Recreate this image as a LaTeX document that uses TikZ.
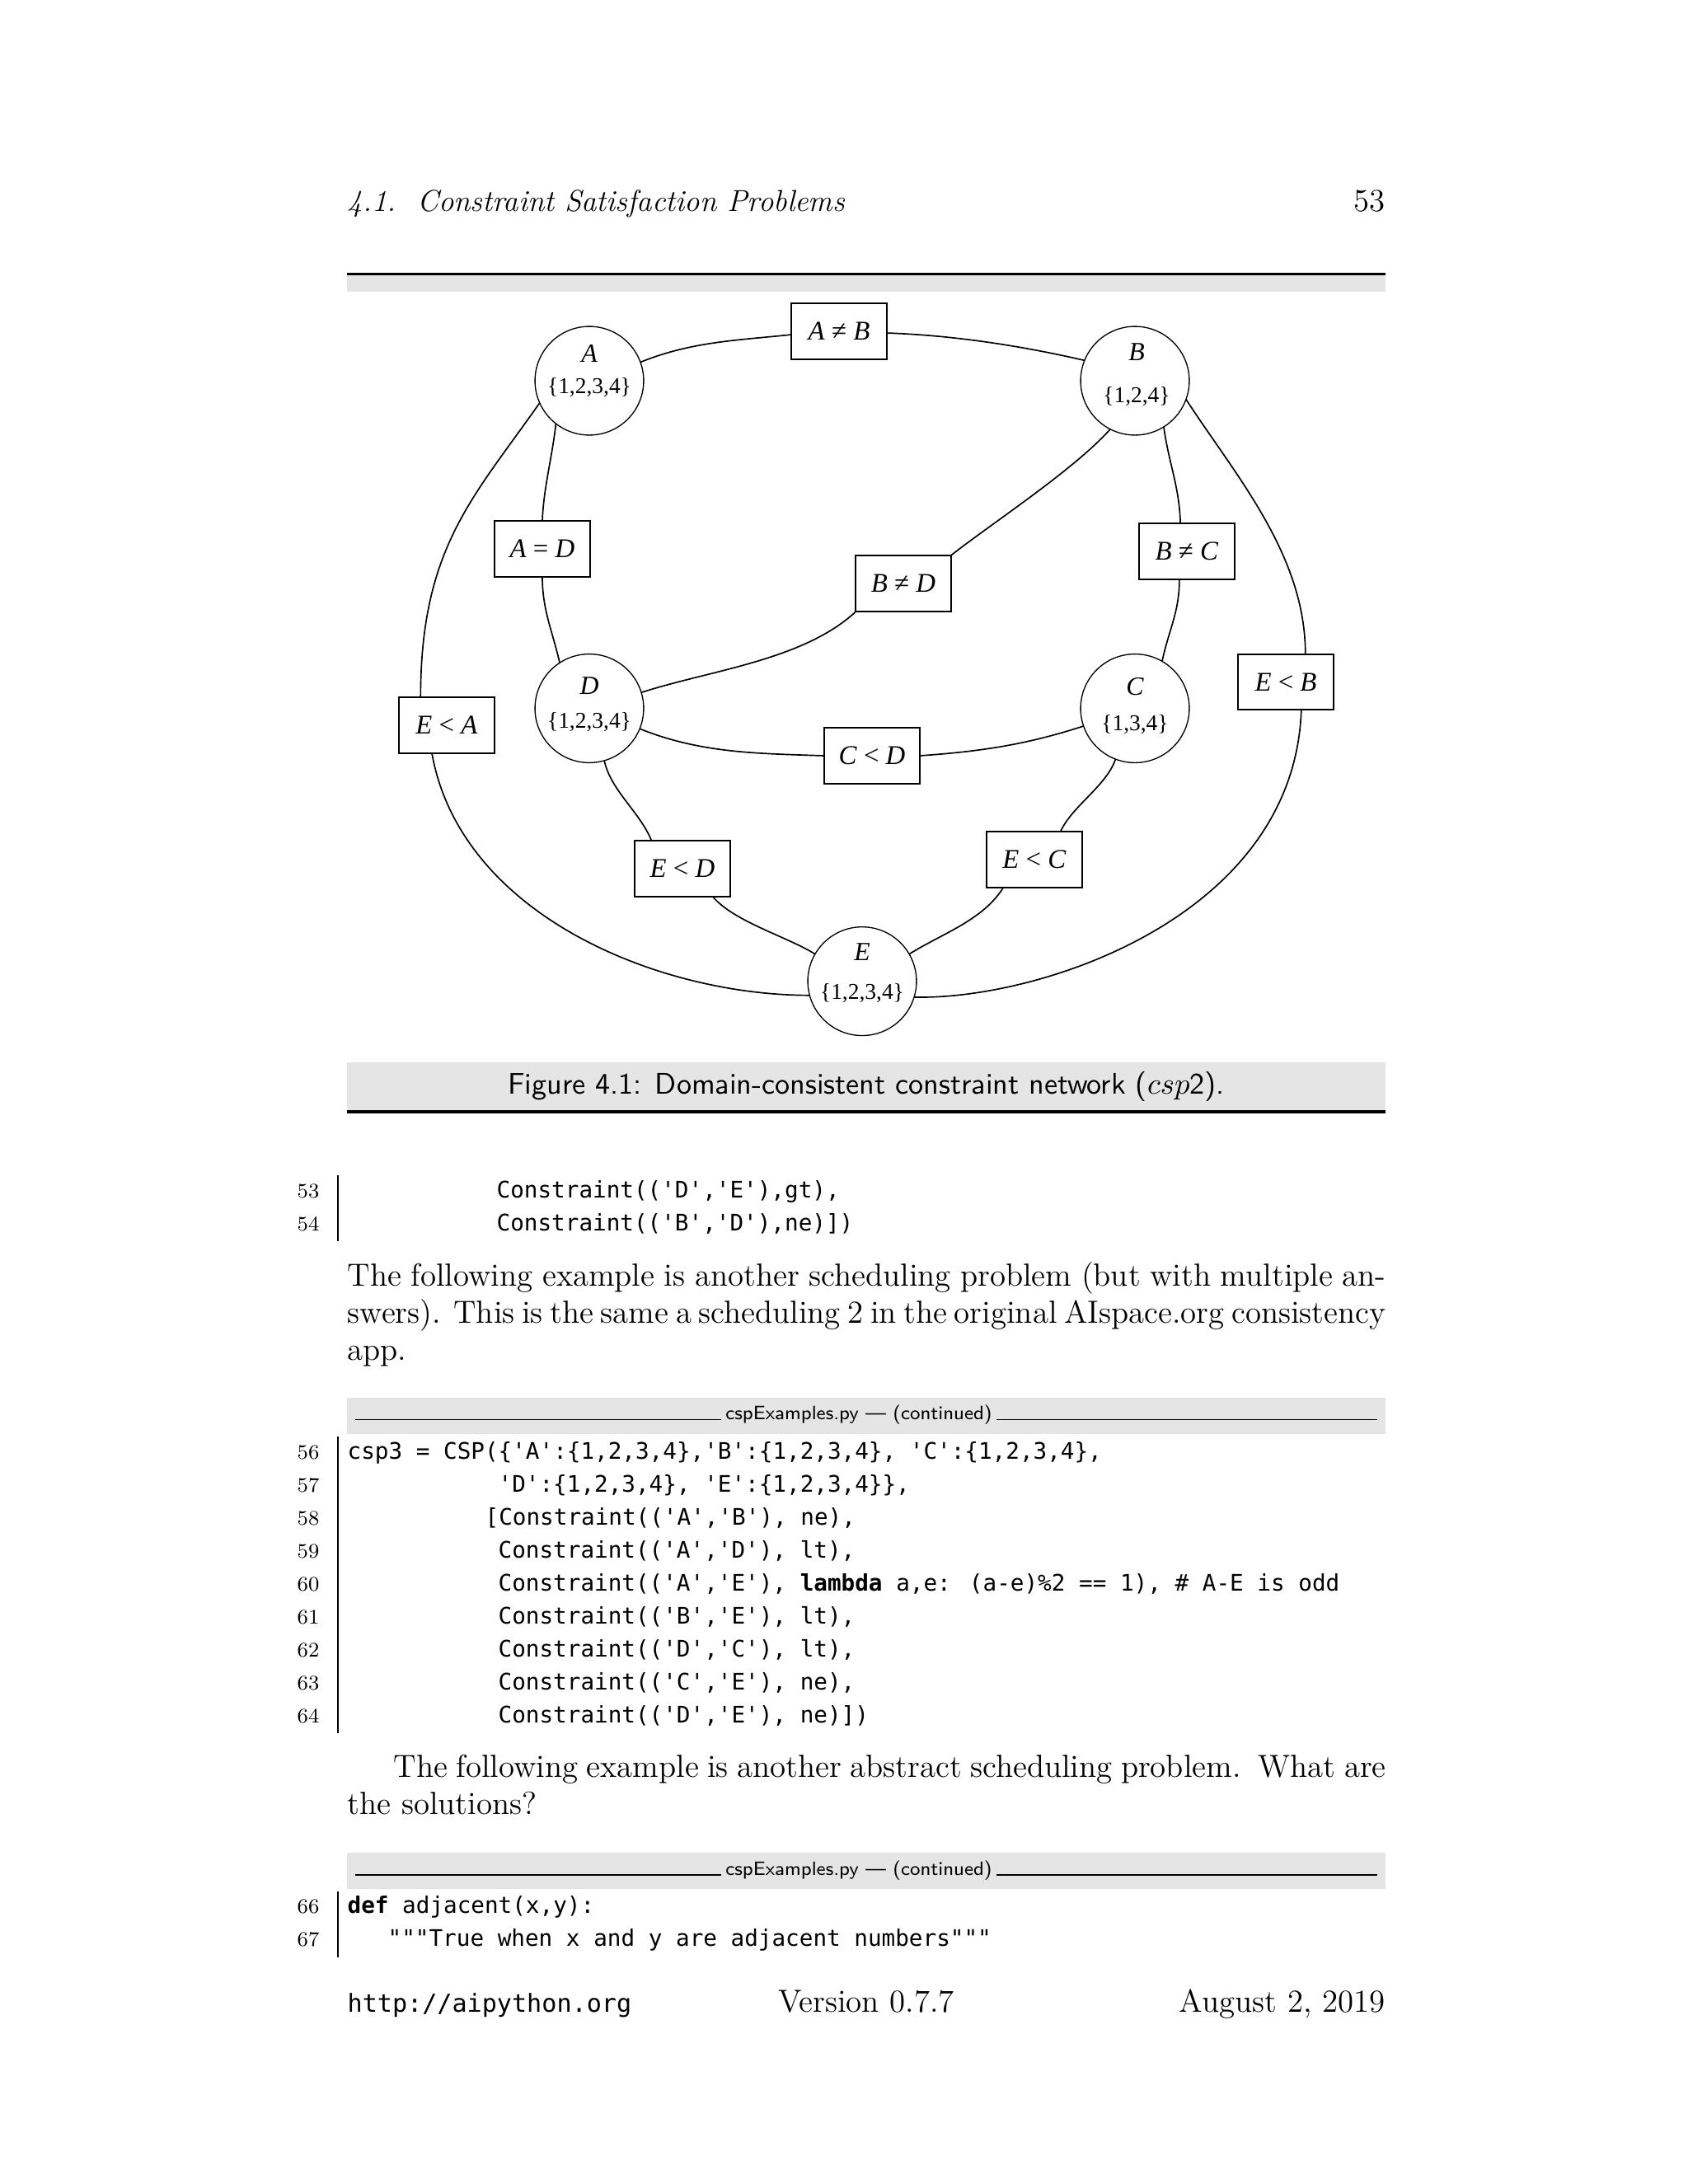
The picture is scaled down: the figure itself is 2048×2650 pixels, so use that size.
\documentclass[tikz,border=0pt]{standalone}
\usepackage{fontspec}
\usepackage{graphicx}
\newfontfamily\gvfont{Liberation Serif}
\newfontfamily\codefont{DejaVu Sans Mono}
\definecolor{bandgray}{gray}{0.9}
\tikzset{
  var/.style={circle, draw, line width=0.4pt, minimum size=39.4pt, inner sep=0pt, outer sep=0pt},
  con/.style={rectangle, draw, line width=0.6pt, minimum width=34.4pt, minimum height=20.3pt, inner sep=0pt, outer sep=0pt, font=\gvfont\fontsize{9.8}{12}\selectfont},
  vname/.style={inner sep=0pt, font=\gvfont\itshape\fontsize{9.5}{12}\selectfont},
  vdom/.style={inner sep=0pt, font=\gvfont\fontsize{8.2}{10}\selectfont},
  arc/.style={line width=0.5pt},
  code/.style={anchor=base west, inner sep=0pt, font=\codefont\fontsize{8.26}{10}\selectfont},
  lnum/.style={anchor=base east, inner sep=0pt, font=\fontsize{7.5}{9}\selectfont},
  body/.style={anchor=base west, inner sep=0pt, font=\fontsize{11.6}{13.6}\selectfont},
  boxlabel/.style={anchor=base, inner xsep=1.5pt, inner ysep=0pt, font=\sffamily\fontsize{7}{8}\selectfont},
  bar/.style={line width=0.5pt},
  thinrule/.style={line width=0.4pt}
}
\newcommand{\ital}[1]{\textit{#1}}
\begin{document}
\begin{tikzpicture}[x=0.29883pt,y=-0.29883pt]
\useasboundingbox (0,0) rectangle (2048,2650);
\fill[white] (0,0) rectangle (2048,2650);

% ---------- running head ----------
\node[anchor=base west, inner sep=0pt, font=\itshape\fontsize{11}{13.6}\selectfont] (head) at (421,256.7) {4.1.\ \ Constraint Satisfaction Problems};
\node[anchor=base east, inner sep=0pt, font=\fontsize{11.6}{13.6}\selectfont] (pageno) at (1681,256.7) {53};

% ---------- figure frame ----------
\fill[black] (421,331) rectangle (1681,334.3);
\fill[bandgray] (421,334.3) rectangle (1681,354);
\fill[bandgray] (421,1289) rectangle (1681,1347);
\fill[black] (421,1347) rectangle (1681,1351);
\node[anchor=base, inner sep=0pt, font=\sffamily\fontsize{10.8}{12}\selectfont] (cap) at (1051,1327) {Figure 4.1: Domain-consistent constraint network ($csp$2).};

% ---------- graph: variables ----------
\node[var] (A) at (715,462) {};
\node[var] (B) at (1377,462) {};
\node[var] (C) at (1377,859.5) {};
\node[var] (D) at (715,859.5) {};
\node[var] (E) at (1046,1190.6) {};
\node[vname] (An) at (715,429) {A};
\node[vdom] (Ad) at (715,470) {\{1,2,3,4\}};
\node[vname] (Bn) at (1379,427) {B};
\node[vdom] (Bd) at (1379,481) {\{1,2,4\}};
\node[vname] (Cn) at (1377,833) {C};
\node[vdom] (Cd) at (1377,879) {\{1,3,4\}};
\node[vname] (Dn) at (715,832) {D};
\node[vdom] (Dd) at (715,876) {\{1,2,3,4\}};
\node[vname] (En) at (1046,1155) {E};
\node[vdom] (Ed) at (1046,1205) {\{1,2,3,4\}};

% ---------- graph: constraints ----------
\node[con] (AB) at (1018,402) {\ital{A} ≠ \ital{B}};
\node[con] (AD) at (658,666) {\ital{A} = \ital{D}};
\node[con] (BD) at (1096,708) {\ital{B} ≠ \ital{D}};
\node[con] (BC) at (1440,669) {\ital{B} ≠ \ital{C}};
\node[con] (EB) at (1560,827.5) {\ital{E} < \ital{B}};
\node[con] (EA) at (542,879.6) {\ital{E} < \ital{A}};
\node[con] (CD) at (1058,917) {\ital{C} < \ital{D}};
\node[con] (ED) at (828,1053.6) {\ital{E} < \ital{D}};
\node[con] (EC) at (1255,1043) {\ital{E} < \ital{C}};

% ---------- graph: arcs ----------
\draw[arc] (A.20) .. controls +(22:20pt) and +(186:20pt) .. (AB.184);
\draw[arc] (AB.-2) .. controls +(-2:24pt) and +(167:24pt) .. (B.158);
\draw[arc] (A.232) .. controls +(-96:12pt) and +(88:12pt) .. (AD.north);
\draw[arc] (AD.south) .. controls +(-90:12pt) and +(103:12pt) .. (D.123);
\draw[arc] (A.204) .. controls +(-125:42pt) and +(90:54pt) .. (EA.133);
\draw[arc] (EA.-118) .. controls +(-80:59.5pt) and +(180:55pt) .. (E.195);
\draw[arc] (B.-20) .. controls +(-57:33pt) and +(90:36pt) .. (EB.55);
\draw[arc] (EB.-61) .. controls +(-92:75.6pt) and +(-1.5:44.5pt) .. (E.-17);
\draw[arc] (B.-58) .. controls +(-82:14pt) and +(92:14pt) .. (BC.103);
\draw[arc] (BC.-105) .. controls +(-90:12pt) and +(78:12pt) .. (C.60);
\draw[arc] (B.-117) .. controls +(-132:20pt) and +(38:20pt) .. (BD.north east);
\draw[arc] (BD.south west) .. controls +(-137:26pt) and +(18:26pt) .. (D.17);
\draw[arc] (D.-22) .. controls +(-22:24pt) and +(178:24pt) .. (CD.west);
\draw[arc] (CD.east) .. controls +(4:22pt) and +(-162:22pt) .. (C.199);
\draw[arc] (D.-74) .. controls +(-78:11pt) and +(112:11pt) .. (ED.138);
\draw[arc] (ED.-43) .. controls +(-50:12pt) and +(148:12pt) .. (E.150);
\draw[arc] (C.-111) .. controls +(-108:10pt) and +(66:10pt) .. (EC.47);
\draw[arc] (EC.-138) .. controls +(-122:14pt) and +(32:14pt) .. (E.30);

% ---------- code lines 53-54 ----------
\coordinate (bar1t) at (410,1426);
\coordinate (bar1b) at (410,1506);
\draw[bar] (bar1t) -- (bar1b);
\node[lnum] (n53) at (388,1453) {53};
\node[lnum] (n54) at (388,1493) {54};
\node[code] (c53) at (602,1453) {Constraint(('D','E'),gt),};
\node[code] (c54) at (602,1493) {Constraint(('B','D'),ne)])};

% ---------- paragraph 1 ----------
\node[body] (p1a) at (421,1560) {\makebox[376.5pt][s]{The following example is another scheduling problem (but with multiple an-}};
\node[body] (p1b) at (421,1605) {\makebox[376.5pt][s]{swers). This is the same a scheduling 2 in the original AIspace.org consistency}};
\node[body] (p1c) at (421,1650) {app.};

% ---------- code box 1 ----------
\fill[bandgray] (421,1696) rectangle (1681,1740);
\node[boxlabel] (lab1) at (1042,1722.7) {cspExamples.py --- (continued)};
\coordinate (l1a) at (431,1722.7);
\coordinate (l1b) at (1671,1722.7);
\draw[thinrule] (l1a) -- (lab1.base west);
\draw[thinrule] (lab1.base east) -- (l1b);
\coordinate (bar2t) at (410,1743);
\coordinate (bar2b) at (410,2103);
\draw[bar] (bar2t) -- (bar2b);
\node[lnum] (n56) at (388,1770) {56};
\node[lnum] (n57) at (388,1810) {57};
\node[lnum] (n58) at (388,1850) {58};
\node[lnum] (n59) at (388,1890) {59};
\node[lnum] (n60) at (388,1930) {60};
\node[lnum] (n61) at (388,1970) {61};
\node[lnum] (n62) at (388,2010) {62};
\node[lnum] (n63) at (388,2050) {63};
\node[lnum] (n64) at (388,2090) {64};
\node[code] (c56) at (421,1770) {csp3 = CSP(\{'A':\{1,2,3,4\},'B':\{1,2,3,4\}, 'C':\{1,2,3,4\},};
\node[code] (c57) at (604,1810) {'D':\{1,2,3,4\}, 'E':\{1,2,3,4\}\},};
\node[code] (c58) at (588,1850) {[Constraint(('A','B'), ne),};
\node[code] (c59) at (604,1890) {Constraint(('A','D'), lt),};
\node[code] (c60) at (604,1930) {Constraint(('A','E'), {\bfseries lambda} a,e: (a-e)\%2 == 1), \# A-E is odd};
\node[code] (c61) at (604,1970) {Constraint(('B','E'), lt),};
\node[code] (c62) at (604,2010) {Constraint(('D','C'), lt),};
\node[code] (c63) at (604,2050) {Constraint(('C','E'), ne),};
\node[code] (c64) at (604,2090) {Constraint(('D','E'), ne)])};

% ---------- paragraph 2 ----------
\node[body] (p2a) at (477,2156.7) {\makebox[359.8pt][s]{The following example is another abstract scheduling problem.\ \ What are}};
\node[body] (p2b) at (421,2201.7) {the solutions?};

% ---------- code box 2 ----------
\fill[bandgray] (421,2248) rectangle (1681,2292);
\node[boxlabel] (lab2) at (1042,2275) {cspExamples.py --- (continued)};
\coordinate (l2a) at (431,2275);
\coordinate (l2b) at (1671,2275);
\draw[thinrule] (l2a) -- (lab2.base west);
\draw[thinrule] (lab2.base east) -- (l2b);
\coordinate (bar3t) at (410,2295);
\coordinate (bar3b) at (410,2375);
\draw[bar] (bar3t) -- (bar3b);
\node[lnum] (n66) at (388,2321.7) {66};
\node[lnum] (n67) at (388,2361.7) {67};
\node[code] (c66) at (421,2321.7) {{\bfseries def} adjacent(x,y):};
\node[code] (c67) at (470,2361.7) {"""True when x and y are adjacent numbers"""};

% ---------- footer ----------
\node[anchor=base west, inner sep=0pt, font=\codefont\fontsize{9}{11}\selectfont] (url) at (421,2441.7) {http://aipython.org};
\node[anchor=base, inner sep=0pt, font=\fontsize{11.6}{13.6}\selectfont] (ver) at (1051,2441.7) {Version 0.7.7};
\node[anchor=base east, inner sep=0pt, font=\fontsize{11.6}{13.6}\selectfont] (date) at (1681,2441.7) {August 2, 2019};
\end{tikzpicture}
\end{document}
